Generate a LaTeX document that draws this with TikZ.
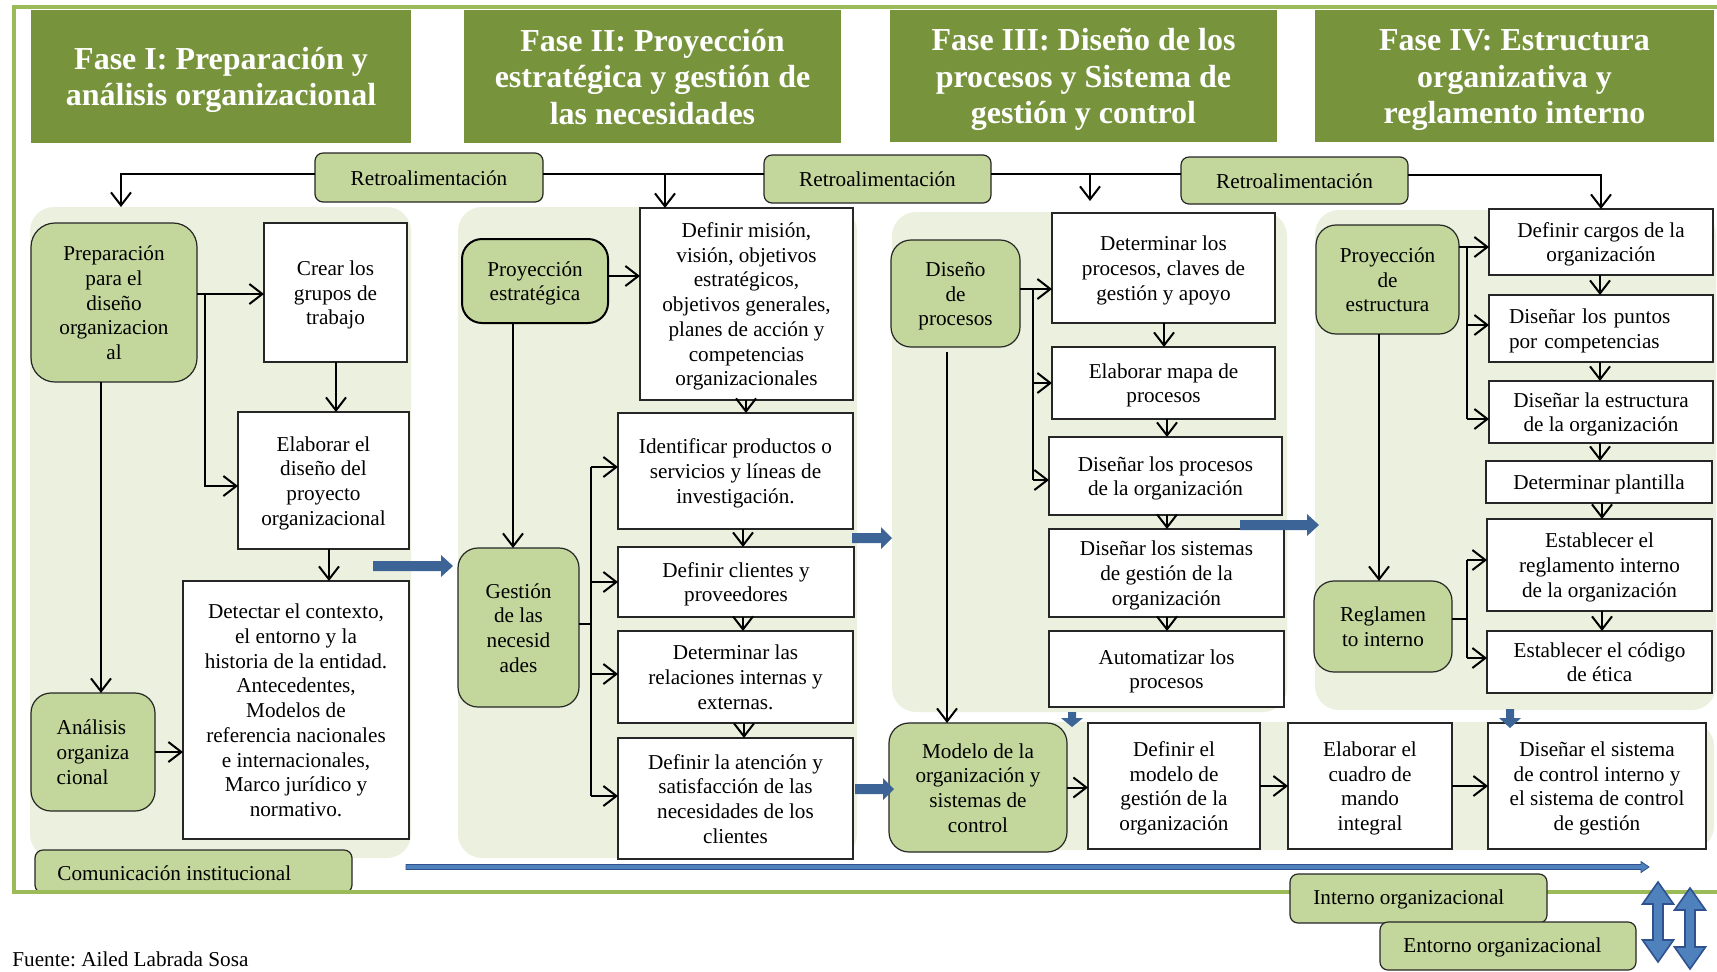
\documentclass[tikz,border=0pt]{standalone}
\usepackage{fontspec}
\setmainfont{Liberation Serif}
\usetikzlibrary{arrows.meta}
\frenchspacing
\definecolor{hdr}{RGB}{119,147,60}
\definecolor{framec}{RGB}{155,187,89}
\definecolor{lgreen}{RGB}{195,214,155}
\definecolor{bggreen}{RGB}{235,241,222}
\definecolor{blueA}{RGB}{60,100,150}
\definecolor{blueL}{RGB}{79,129,189}
\definecolor{blueD}{RGB}{47,82,143}
\newcommand\tst{\rule{0pt}{10.5pt}}
\newcommand\bst{\rule[-2.9pt]{0pt}{2.9pt}}
\newcommand\htst{\rule{0pt}{14.7pt}}
\newcommand\hbst{\rule[-3.5pt]{0pt}{3.5pt}}
\newcommand\bx[7]{\node[#2, minimum width={(#5-#3)*0.5pt}, minimum height={(#6-#4)*0.5pt}] (#1) at ({(#3+#5)/2},{(#4+#6)/2}) {\tst#7\bst};}
\newcommand\hx[7]{\node[#2, minimum width={(#5-#3)*0.5pt}, minimum height={(#6-#4)*0.5pt}] (#1) at ({(#3+#5)/2},{(#4+#6)/2}) {\htst#7\hbst};}
\newcommand\hblk[6]{\fill[blueA] ({#1},{#3-#4}) -- ({#2-#6},{#3-#4}) -- ({#2-#6},{#3-#5}) -- ({#2},{#3}) -- ({#2-#6},{#3+#5}) -- ({#2-#6},{#3+#4}) -- ({#1},{#3+#4}) -- cycle;}
\newcommand\vblk[6]{\fill[blueA] ({#1-#4},{#2}) -- ({#1+#4},{#2}) -- ({#1+#4},{#3-#6}) -- ({#1+#5},{#3-#6}) -- ({#1},{#3}) -- ({#1-#5},{#3-#6}) -- ({#1-#4},{#3-#6}) -- cycle;}
\newcommand\dblk[3]{\filldraw[fill=blueL, draw=blueD, line width=0.8pt] ({#1},{#2}) -- ({#1+15.5},{#2+22}) -- ({#1+5},{#2+22}) -- ({#1+5},{#3-22}) -- ({#1+15.5},{#3-22}) -- ({#1},{#3}) -- ({#1-15.5},{#3-22}) -- ({#1-5},{#3-22}) -- ({#1-5},{#2+22}) -- ({#1-15.5},{#2+22}) -- cycle;}
\begin{document}
\begin{tikzpicture}[x=0.5pt,y=-0.5pt,
  font=\fontsize{10.6}{12.35}\selectfont,
  wbox/.style={draw=black!85, fill=white, line width=0.75pt, inner sep=0pt, outer sep=0pt, align=center},
  gbox/.style={draw=black!85, fill=lgreen, line width=0.6pt, rounded corners=10pt, inner sep=0pt, outer sep=0pt, align=center},
  rbox/.style={gbox, rounded corners=4pt},
  hbox/.style={fill=hdr, text=white, font=\fontsize{16}{18.3}\selectfont\bfseries, align=center, inner sep=0pt, outer sep=0pt},
  panel/.style={fill=bggreen, rounded corners=12pt},
  ln/.style={draw=black, line width=1pt},
  arr/.style={ln, -{Straight Barb[length=6.5pt,width=10pt]}}]
\useasboundingbox (0,0) rectangle (1717,971);
\fill[white] (0,0) rectangle (1717,971);

% panels
\fill[panel] (30,207) rectangle (411,858);
\fill[panel] (458,207) rectangle (857,858);
\fill[panel] (892,212) rectangle (1287,712);
\fill[panel] (1315,210) rectangle (1716,710);
\fill[panel] (889,722) rectangle (1714,850);

% headers
\hx{h1}{hbox}{31}{10}{411}{143}{Fase I: Preparación y\\análisis organizacional}
\hx{h2}{hbox}{464}{10}{841}{143}{Fase II: Proyección\\estratégica y gestión de\\las necesidades}
\hx{h3}{hbox}{890}{10}{1277}{142}{Fase III: Diseño de los\\procesos y Sistema  de\\gestión y control}
\hx{h4}{hbox}{1315}{10}{1714}{142}{Fase IV: Estructura\\organizativa y\\reglamento interno}

% feedback boxes
\bx{r1}{rbox}{315}{153}{543}{202}{Retroalimentación}
\bx{r2}{rbox}{764}{155}{991}{203}{Retroalimentación}
\bx{r3}{rbox}{1181}{157}{1408}{204}{Retroalimentación}

% Phase I
\bx{prep}{gbox, rounded corners=12pt}{31}{223}{197}{382}{Preparación\\para el\\diseño\\organizacion\\al}
\bx{crear}{wbox}{264}{223}{407}{362}{Crear los\\grupos de\\trabajo}
\bx{elab}{wbox}{238}{412}{409}{549}{Elaborar el\\diseño del\\proyecto\\organizacional}
\bx{detect}{wbox}{183}{581}{409}{839}{Detectar el contexto,\\el entorno y la\\historia de la entidad.\\Antecedentes,\\Modelos de\\referencia nacionales\\e internacionales,\\Marco jurídico y\\normativo.}
\bx{anal}{gbox, align=left}{31}{693}{155}{811}{Análisis\\organiza\\cional}
\bx{com}{rbox}{35}{850}{352}{893}{}
\node[anchor=west, inner sep=0pt] (comt) at (57,873) {Comunicación institucional};

% Phase II
\bx{proyE}{gbox, draw=black, line width=1pt}{462}{239}{608}{323}{Proyección\\estratégica}
\bx{mision}{wbox}{640}{208}{853}{400}{Definir misión,\\visión, objetivos\\estratégicos,\\objetivos generales,\\planes de acción y\\competencias\\organizacionales}
\bx{ident}{wbox}{618}{413}{853}{529}{Identificar productos o\\servicios y líneas de\\investigación.}
\bx{clientes}{wbox}{618}{547}{854}{617}{Definir clientes y\\proveedores}
\bx{relac}{wbox}{618}{631}{853}{723}{Determinar las\\relaciones internas y\\externas.}
\bx{atenc}{wbox}{618}{738}{853}{859}{Definir la atención y\\satisfacción de las\\necesidades de los\\clientes}
\bx{gest}{gbox}{458}{548}{579}{707}{Gestión\\de las\\necesid\\ades}

% Phase III
\bx{diseno}{gbox}{891}{240}{1020}{347}{Diseño\\de\\procesos}
\bx{determ}{wbox}{1052}{213}{1275}{323}{Determinar los\\procesos, claves de\\gestión y apoyo}
\bx{mapa}{wbox}{1052}{347}{1275}{419}{Elaborar mapa de\\procesos}
\bx{dproc}{wbox}{1049}{437}{1282}{515}{Diseñar los procesos\\de la organización}
\bx{dsist}{wbox}{1049}{529}{1284}{617}{Diseñar los sistemas\\de gestión de la\\organización}
\bx{autom}{wbox}{1049}{631}{1284}{707}{Automatizar los\\procesos}
\bx{modelo}{gbox}{889}{723}{1067}{852}{Modelo de la\\organización y\\sistemas de\\control}
\bx{defmod}{wbox}{1088}{723}{1260}{849}{Definir el\\modelo de\\gestión de la\\organización}
\bx{cuadro}{wbox}{1288}{723}{1452}{849}{Elaborar el\\cuadro de\\mando\\integral}
\bx{dsc}{wbox}{1488}{723}{1706}{849}{Diseñar el sistema\\de control interno y\\el sistema de control\\de gestión}

% Phase IV
\bx{proyEst}{gbox}{1316}{225}{1459}{334}{Proyección\\de\\estructura}
\bx{cargos}{wbox}{1489}{209}{1713}{275}{Definir cargos de la\\organización}
\bx{puntos}{wbox, align=left, text width=92pt}{1489}{295}{1713}{362}{Diseñar los puntos\\por competencias}
\bx{estruc}{wbox}{1489}{381}{1713}{443}{Diseñar la estructura\\de la organización}
\bx{plant}{wbox}{1486}{461}{1712}{503}{Determinar plantilla}
\bx{reglam}{wbox}{1487}{519}{1712}{611}{Establecer el\\reglamento interno\\de la organización}
\bx{codigo}{wbox}{1487}{631}{1712}{693}{Establecer el código\\de ética}
\bx{reg}{gbox}{1314}{581}{1452}{672}{Reglamen\\to interno}

% frame
\draw[framec, line width=2pt] (1717,7) -- (13.5,7) -- (13.5,892) -- (1717,892);

% bottom boxes
\bx{interno}{rbox}{1290}{874}{1547}{923}{}
\node[anchor=west, inner sep=0pt] (internot) at (1313,899) {Interno organizacional};
\bx{entorno}{rbox}{1380}{922}{1636}{970}{}
\node[anchor=west, inner sep=0pt] (entornot) at (1403,947) {Entorno organizacional};
\node[anchor=west, inner sep=0pt] (src) at (12,959) {Fuente: Ailed Labrada Sosa};

% feedback connectors
\coordinate (fbA) at (121,207);
\coordinate (fbC) at (1090,201);
\draw[arr] (r1.west |- 0,174) -| (fbA);
\draw[ln] (r1.east |- 0,174) -- (r2.west |- 0,174);
\draw[arr] (665,174) -- (665,0 |- mision.north);
\draw[ln] (r2.east |- 0,174) -- (r3.west |- 0,174);
\draw[arr] (1090,174) -- (fbC);
\draw[arr] (r3.east |- 0,175) -| (1601,0 |- cargos.north);

% Phase I connectors
\coordinate (j1) at (205,294);
\draw[arr] (prep.east |- 0,294) -- (crear.west |- 0,294);
\draw[arr] (j1) |- (elab.west |- 0,486);
\draw[arr] (336,0 |- crear.south) -- (336,0 |- elab.north);
\draw[arr] (329,0 |- elab.south) -- (329,0 |- detect.north);
\draw[arr] (101,0 |- prep.south) -- (101,0 |- anal.north);
\draw[arr] (anal.east) -- (detect.west |- anal.east);

% Phase II connectors
\draw[arr] (proyE.east |- 0,276) -- (mision.west |- 0,276);
\draw[arr] (513,0 |- proyE.south) -- (513,0 |- gest.north);
\draw[arr] (746,0 |- mision.south) -- (746,0 |- ident.north);
\draw[arr] (743,0 |- ident.south) -- (743,0 |- clientes.north);
\draw[arr] (743,0 |- clientes.south) -- (743,0 |- relac.north);
\draw[arr] (744,0 |- relac.south) -- (744,0 |- atenc.north);
\draw[ln] (gest.east |- 0,624) -- (591,624);
\draw[ln] (591,467) -- (591,796);
\draw[arr] (591,467) -- (ident.west |- 0,467);
\draw[arr] (591,582) -- (clientes.west |- 0,582);
\draw[arr] (591,674) -- (relac.west |- 0,674);
\draw[arr] (591,796) -- (atenc.west |- 0,796);

% Phase III connectors
\draw[arr] (diseno.east |- 0,289) -- (determ.west |- 0,289);
\draw[ln] (1033,289) -- (1033,480);
\draw[arr] (1033,383) -- (mapa.west |- 0,383);
\draw[arr] (1033,480) -- (dproc.west |- 0,480);
\draw[arr] (1164,0 |- determ.south) -- (1164,0 |- mapa.north);
\draw[arr] (1167,0 |- mapa.south) -- (1167,0 |- dproc.north);
\draw[arr] (1167,0 |- dproc.south) -- (1167,0 |- dsist.north);
\draw[arr] (1167,0 |- dsist.south) -- (1167,0 |- autom.north);
\draw[arr] (947,352) -- (947,0 |- modelo.north);
\draw[arr] (modelo.east) -- (defmod.west |- modelo.east);
\draw[arr] (defmod.east) -- (cuadro.west);
\draw[arr] (cuadro.east) -- (dsc.west);

% Phase IV connectors
\draw[arr] (proyEst.east |- 0,247) -- (cargos.west |- 0,247);
\draw[ln] (1467,247) -- (1467,419);
\draw[arr] (1467,325) -- (puntos.west |- 0,325);
\draw[arr] (1467,419) -- (estruc.west |- 0,419);
\draw[arr] (1600,0 |- cargos.south) -- (1600,0 |- puntos.north);
\draw[arr] (1600,0 |- puntos.south) -- (1600,0 |- estruc.north);
\draw[arr] (1600,0 |- estruc.south) -- (1600,0 |- plant.north);
\draw[arr] (1602,0 |- plant.south) -- (1602,0 |- reglam.north);
\draw[arr] (1602,0 |- reglam.south) -- (1602,0 |- codigo.north);
\draw[arr] (1379,0 |- proyEst.south) -- (1379,0 |- reg.north);
\draw[ln] (reg.east |- 0,619) -- (1467,619);
\draw[ln] (1467,560) -- (1467,658);
\draw[arr] (1467,560) -- (reglam.west |- 0,560);
\draw[arr] (1467,658) -- (codigo.west |- 0,658);

% blue block arrows
\hblk{373}{453}{566}{5}{11}{12}
\hblk{852}{892}{538}{5}{11}{11}
\hblk{855}{894}{789}{5}{11}{11}
\hblk{1240}{1319}{525}{5}{11}{12}
\vblk{1072}{712}{727}{4}{11}{9}
\vblk{1510}{709}{728}{4}{11}{10}
% long blue line
\filldraw[fill=blueL, draw=blueD, line width=0.4pt] (406,864.5) -- (1641,864.5) -- (1641,861.5) -- (1649,867) -- (1641,872.5) -- (1641,869.5) -- (406,869.5) -- cycle;
% double arrows
\dblk{1658}{882}{962}
\dblk{1690}{888}{969}
\end{tikzpicture}
\end{document}
